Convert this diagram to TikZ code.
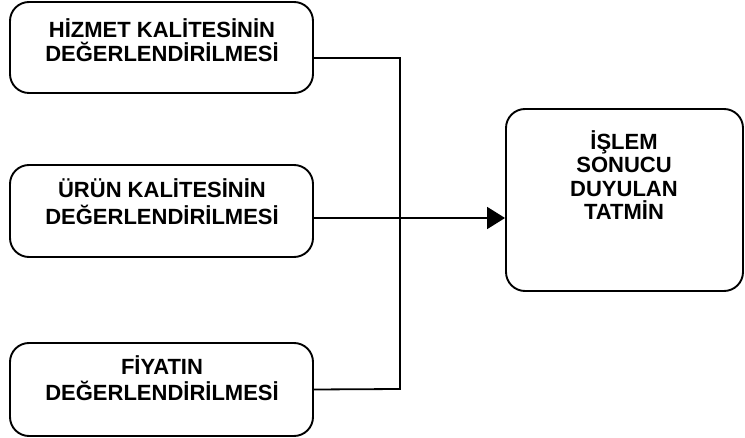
\documentclass[tikz,border=0pt]{standalone}
\usepackage{fontspec}
\setmainfont{Liberation Sans}
\usetikzlibrary{arrows.meta}
\tikzset{
  box/.style={draw, line width=1.9pt, rounded corners=19pt, inner sep=0pt},
  lbl/.style={font=\bfseries\fontsize{22pt}{#1}\selectfont, align=center, inner sep=0pt, anchor=base},
  link/.style={line width=1.8pt},
  tip/.style={-{Triangle[length=18pt,width=22pt]}}
}
\begin{document}
\begin{tikzpicture}[x=1pt,y=-1pt]
  \useasboundingbox (0,0) rectangle (745,438);
  % input boxes
  \node[box, minimum width=303pt, minimum height=91pt] (b1) at (161.5,47.5) {};
  \node[box, minimum width=303pt, minimum height=92pt] (b2) at (161.5,211) {};
  \node[box, minimum width=303pt, minimum height=93pt] (b3) at (161.5,389.5) {};
  % result box
  \node[box, minimum width=237pt, minimum height=182pt] (r) at (624.5,200) {};
  % labels (anchored at the baseline of their last line)
  \node[lbl=24pt] (t1) at (162,62) {HİZMET KALİTESİNİN\\DEĞERLENDİRİLMESİ};
  \node[lbl=26.5pt] (t2) at (162,224.5) {ÜRÜN KALİTESİNİN\\DEĞERLENDİRİLMESİ};
  \node[lbl=26pt] (t3) at (162,401) {FİYATIN\\DEĞERLENDİRİLMESİ};
  \node[lbl=23.5pt] (t4) at (624,220) {İŞLEM\\SONUCU\\DUYULAN\\TATMİN};
  % connectors
  \coordinate (j1) at (400,58);
  \coordinate (j3) at (400,389);
  \draw[link] ([yshift=-10.5pt]b1.east) -- (j1) -- (j3) -- (b3.east);
  \draw[link, tip] ([yshift=-7pt]b2.east) -- ([yshift=-7pt]b2.east -| r.west);
\end{tikzpicture}
\end{document}
